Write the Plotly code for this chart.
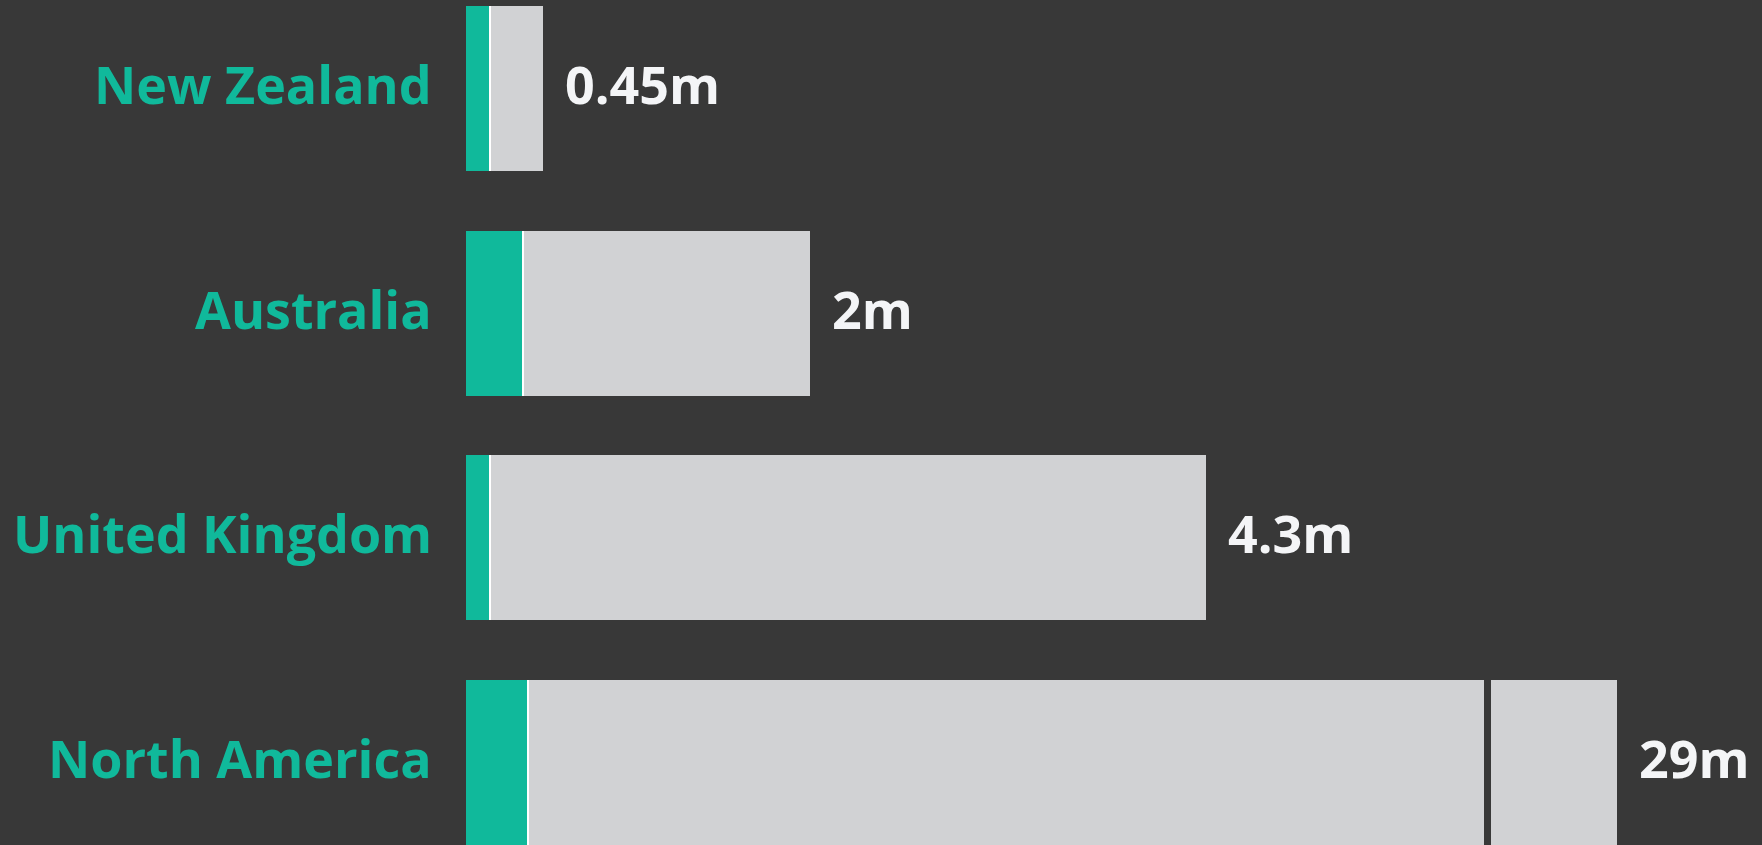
import plotly.graph_objects as go

# ---- data ----
regions = ["North America", "United Kingdom", "Australia", "New Zealand"]
totals = [29.0, 4.3, 2.0, 0.45]            # millions
teal_part = [0.355, 0.134, 0.326, 0.134]   # millions (highlighted share)
value_labels = ["29m", "4.3m", "2m", "0.45m"]

# ---- axis break settings (display only) ----
BREAK_AT = 5.92      # where the long bar is cut
BREAK_GAP = 0.04     # visible gap width
BREAK_TAIL = 0.73    # remaining stub drawn after the gap
SEP = 0.009          # thin white separator between segments

BG = "#383838"
TEAL = "#10b99b"
GREY = "#d1d2d4"
WHITE = "#f4f5f7"

gray_a, gap_w, gray_b, disp_end = [], [], [], []
for tot, t in zip(totals, teal_part):
    if tot > BREAK_AT + BREAK_TAIL:
        gray_a.append(BREAK_AT - t - SEP)
        gap_w.append(BREAK_GAP)
        gray_b.append(BREAK_TAIL)
        disp_end.append(BREAK_AT + BREAK_GAP + BREAK_TAIL)
    else:
        gray_a.append(tot - t - SEP)
        gap_w.append(0)
        gray_b.append(0)
        disp_end.append(tot)

fig = go.Figure()
common = dict(y=regions, orientation="h", width=0.734, hoverinfo="skip")
fig.add_trace(go.Bar(x=teal_part, marker=dict(color=TEAL, line_width=0), **common))
fig.add_trace(go.Bar(x=[SEP] * len(regions), marker=dict(color="#ffffff", line_width=0), **common))
fig.add_trace(go.Bar(x=gray_a, marker=dict(color=GREY, line_width=0), **common))
fig.add_trace(go.Bar(x=gap_w, marker=dict(color=BG, line_width=0), **common))
fig.add_trace(go.Bar(x=gray_b, marker=dict(color=GREY, line_width=0), **common))

for r, e, lab in zip(regions, disp_end, value_labels):
    fig.add_annotation(x=e, y=r, text=lab, showarrow=False, xanchor="left",
                       xshift=20, yshift=5,
                       font=dict(family="Open Sans", size=52, color=WHITE, weight="bold"))
    fig.add_annotation(x=0, xref="paper", y=r, text=r, showarrow=False, xanchor="right",
                       xshift=-32, yshift=5,
                       font=dict(family="Open Sans", size=52, color=TEAL, weight="bold"))

fig.update_layout(
    barmode="stack",
    showlegend=False,
    paper_bgcolor=BG,
    plot_bgcolor=BG,
    width=1762, height=845,
    margin=dict(l=466, r=0, t=0, b=0),
    bargap=0,
)
fig.update_xaxes(range=[0, 7.535], visible=False, fixedrange=True)
fig.update_yaxes(range=[-0.367, 3.394], showgrid=False, zeroline=False, showline=False,
                 showticklabels=False, fixedrange=True)

fig.write_html(
    "out.html",
    config={"displayModeBar": False},
    post_script="document.body.style.margin='0';document.body.style.overflow='hidden';"
                "document.body.style.background='" + BG + "';",
)
